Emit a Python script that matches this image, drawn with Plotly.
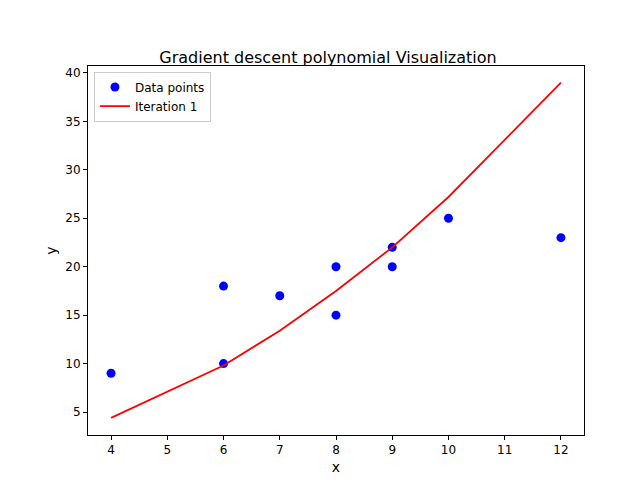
import plotly.graph_objects as go

# data points
x_pts = [4, 6, 6, 7, 8, 8, 9, 9, 10, 12]
y_pts = [9, 18, 10, 17, 20, 15, 22, 20, 25, 23]

# fitted polynomial after iteration 1
x_fit = [4, 6, 7, 8, 9, 10, 12]
y_fit = [4.4, 9.8, 13.4, 17.5, 22.0, 27.2, 39.0]

fig = go.Figure()
fig.add_trace(go.Scatter(x=x_pts, y=y_pts, mode='markers', name='Data points',
                         marker=dict(color='blue', size=9)))
fig.add_trace(go.Scatter(x=x_fit, y=y_fit, mode='lines', name='Iteration 1',
                         line=dict(color='red', width=1.8)))

axis_style = dict(showgrid=False, zeroline=False, showline=True, linecolor='black',
                  mirror=True, ticks='outside', ticklen=4, tickcolor='black',
                  automargin=False)

fig.update_layout(
    width=640, height=480,
    margin=dict(l=80, r=64, t=58, b=53, autoexpand=False),
    plot_bgcolor='white', paper_bgcolor='white',
    font=dict(family='DejaVu Sans', size=12, color='black'),
    title=dict(text='Gradient descent polynomial Visualization', x=0.5, xanchor='center',
               y=0.885, yanchor='bottom', font=dict(size=16), automargin=False),
    xaxis=dict(title=dict(text='x', standoff=5), range=[3.59, 12.41], dtick=1, **axis_style),
    yaxis=dict(title=dict(text='y', standoff=5), range=[2.63, 40.72], dtick=5, **axis_style),
    legend=dict(x=0.012, y=0.985, xanchor='left', yanchor='top', bordercolor='#cccccc',
                borderwidth=1, bgcolor='white', font=dict(size=12)),
)

fig.write_html("out.html")
